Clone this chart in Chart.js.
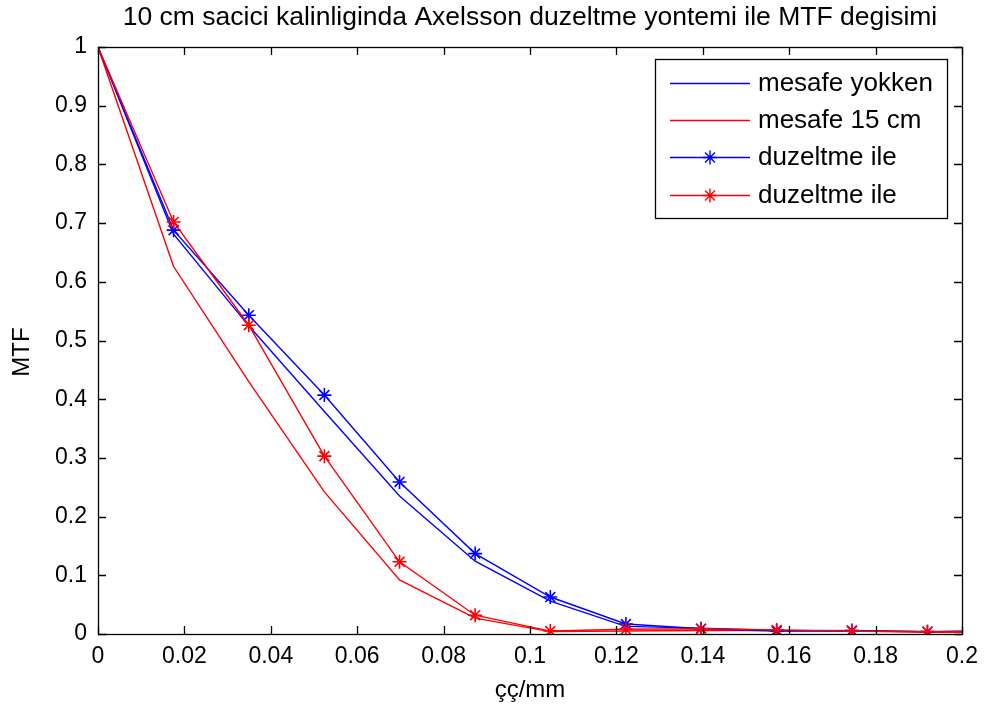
<!DOCTYPE html>
<html>
<head>
<meta charset="utf-8">
<script src="https://cdn.jsdelivr.net/npm/chart.js@4.4.1/dist/chart.umd.min.js"></script>
<style>
  html, body { margin: 0; padding: 0; background: #fff; }
  #c { display: block; }
</style>
</head>
<body>
<canvas id="c" width="987" height="710"></canvas>
<script>
// Spatial frequency samples (cycles/mm)
const freq = [0, 0.0175, 0.0349, 0.0524, 0.0698, 0.0873, 0.1047, 0.1222, 0.1396, 0.1571, 0.1745, 0.1920, 0.2094];

// MTF curves
const mtfNoGap     = [1, 0.681, 0.525, 0.379, 0.235, 0.124, 0.056, 0.013, 0.010, 0.006, 0.005, 0.004, 0.005];
const mtfGap15     = [1, 0.626, 0.430, 0.242, 0.092, 0.027, 0.004, 0.005, 0.006, 0.006, 0.005, 0.003, 0.003];
const mtfCorrBlue  = [1, 0.688, 0.543, 0.407, 0.259, 0.137, 0.063, 0.017, 0.009, 0.005, 0.006, 0.004, 0.006];
const mtfCorrRed   = [1, 0.702, 0.526, 0.303, 0.123, 0.032, 0.005, 0.008, 0.009, 0.007, 0.005, 0.004, 0.004];

const seriesLabels = ['mesafe yokken', 'mesafe 15 cm', 'duzeltme ile', 'duzeltme ile'];

// Axis ticks
const xTicks = [0, 0.02, 0.04, 0.06, 0.08, 0.1, 0.12, 0.14, 0.16, 0.18, 0.2];
const xTickLabels = ['0', '0.02', '0.04', '0.06', '0.08', '0.1', '0.12', '0.14', '0.16', '0.18', '0.2'];
const yTicks = [0, 0.1, 0.2, 0.3, 0.4, 0.5, 0.6, 0.7, 0.8, 0.9, 1];
const yTickLabels = ['0', '0.1', '0.2', '0.3', '0.4', '0.5', '0.6', '0.7', '0.8', '0.9', '1'];

const titleText = '10 cm sacici kalinliginda Axelsson duzeltme yontemi ile MTF degisimi';
const xTitle = 'çç/mm';
const yTitle = 'MTF';

const FONT = '"Liberation Sans", Arial, sans-serif';
const BLUE = '#0000ff';
const RED = '#ff0000';

function pts(ys) { return freq.map((x, i) => ({ x: x, y: ys[i] })); }
// no marker on the first (0, 1) sample
const starRadius = freq.map((_, i) => (i === 0 ? 0 : 7));

const datasets = [
  { label: seriesLabels[0], data: pts(mtfNoGap), borderColor: BLUE, pointRadius: 0, order: 4 },
  { label: seriesLabels[1], data: pts(mtfGap15), borderColor: RED, pointRadius: 0, order: 3 },
  { label: seriesLabels[2], data: pts(mtfCorrBlue), borderColor: BLUE, pointStyle: 'star', pointRadius: starRadius, pointBorderColor: BLUE, pointBorderWidth: 1.6, order: 2, marker: true },
  { label: seriesLabels[3], data: pts(mtfCorrRed), borderColor: RED, pointStyle: 'star', pointRadius: starRadius, pointBorderColor: RED, pointBorderWidth: 1.6, order: 1, marker: true }
].map(d => Object.assign({ borderWidth: 1.4, fill: false, tension: 0, clip: 0, pointHoverRadius: 0 }, d));

// Box, inward ticks, titles and legend in the classic plotting style
const framePlugin = {
  id: 'frame',
  afterDatasetsDraw(chart) {
    const { ctx, chartArea: a, scales } = chart;
    ctx.save();
    ctx.strokeStyle = '#000';
    ctx.lineWidth = 1.3;
    ctx.strokeRect(Math.round(a.left) + 0.5, Math.round(a.top) + 0.5, Math.round(a.right - a.left), Math.round(a.bottom - a.top));
    const tl = 8;
    ctx.beginPath();
    xTicks.forEach(v => {
      const px = Math.round(scales.x.getPixelForValue(v)) + 0.5;
      ctx.moveTo(px, a.bottom); ctx.lineTo(px, a.bottom - tl);
      ctx.moveTo(px, a.top); ctx.lineTo(px, a.top + tl);
    });
    yTicks.forEach(v => {
      const py = Math.round(scales.y.getPixelForValue(v)) + 0.5;
      ctx.moveTo(a.left, py); ctx.lineTo(a.left + tl, py);
      ctx.moveTo(a.right, py); ctx.lineTo(a.right - tl, py);
    });
    ctx.stroke();

    // titles
    ctx.fillStyle = '#000';
    ctx.textAlign = 'center';
    ctx.textBaseline = 'middle';
    ctx.font = '26.5px ' + FONT;
    ctx.fillText(titleText, (a.left + a.right) / 2, 18);
    ctx.font = '24px ' + FONT;
    ctx.fillText(xTitle, (a.left + a.right) / 2, 690);
    ctx.save();
    ctx.translate(22, 352);
    ctx.rotate(-Math.PI / 2);
    ctx.fillText(yTitle, 0, 0);
    ctx.restore();

    // legend
    const bx = 655, by = 59, bw = 292, bh = 159;
    ctx.fillStyle = '#fff';
    ctx.fillRect(bx, by, bw, bh);
    ctx.lineWidth = 1.3;
    ctx.strokeStyle = '#000';
    ctx.strokeRect(bx + 0.5, by + 0.5, bw, bh);
    const rows = [83, 120, 157, 195];
    ctx.font = '26px ' + FONT;
    ctx.textAlign = 'left';
    chart.data.datasets.forEach((ds, i) => {
      const y = rows[i];
      ctx.strokeStyle = ds.borderColor;
      ctx.lineWidth = 1.4;
      ctx.beginPath();
      ctx.moveTo(670, y + 0.5); ctx.lineTo(750, y + 0.5);
      ctx.stroke();
      if (ds.marker) {
        Chart.helpers.drawPoint(ctx, { pointStyle: 'star', radius: 7, borderWidth: 1.6 }, 710, y + 0.5);
      }
      ctx.fillStyle = '#000';
      ctx.fillText(ds.label, 758, y + 1);
    });
    ctx.restore();
  }
};

new Chart(document.getElementById('c'), {
  type: 'line',
  data: { datasets: datasets },
  options: {
    responsive: false,
    animation: false,
    events: [],
    layout: { padding: { top: 47, right: 20, left: 0, bottom: 0 } },
    plugins: { legend: { display: false }, title: { display: false }, tooltip: { enabled: false } },
    scales: {
      x: {
        type: 'linear', min: 0, max: 0.2,
        afterBuildTicks: s => { s.ticks = xTicks.map(v => ({ value: v })); },
        afterFit: s => { s.height = 76; },
        ticks: { callback: (v, i) => xTickLabels[i], color: '#000', font: { family: FONT, size: 23 }, padding: 9, maxRotation: 0, autoSkip: false },
        grid: { display: false, drawTicks: false },
        border: { display: false }
      },
      y: {
        type: 'linear', min: 0, max: 1,
        afterBuildTicks: s => { s.ticks = yTicks.map(v => ({ value: v })); },
        afterFit: s => { s.width = 98; },
        ticks: { callback: (v, i) => yTickLabels[i], color: '#000', font: { family: FONT, size: 23 }, padding: 11, autoSkip: false },
        grid: { display: false, drawTicks: false },
        border: { display: false }
      }
    }
  },
  plugins: [framePlugin]
});
</script>
</body>
</html>
